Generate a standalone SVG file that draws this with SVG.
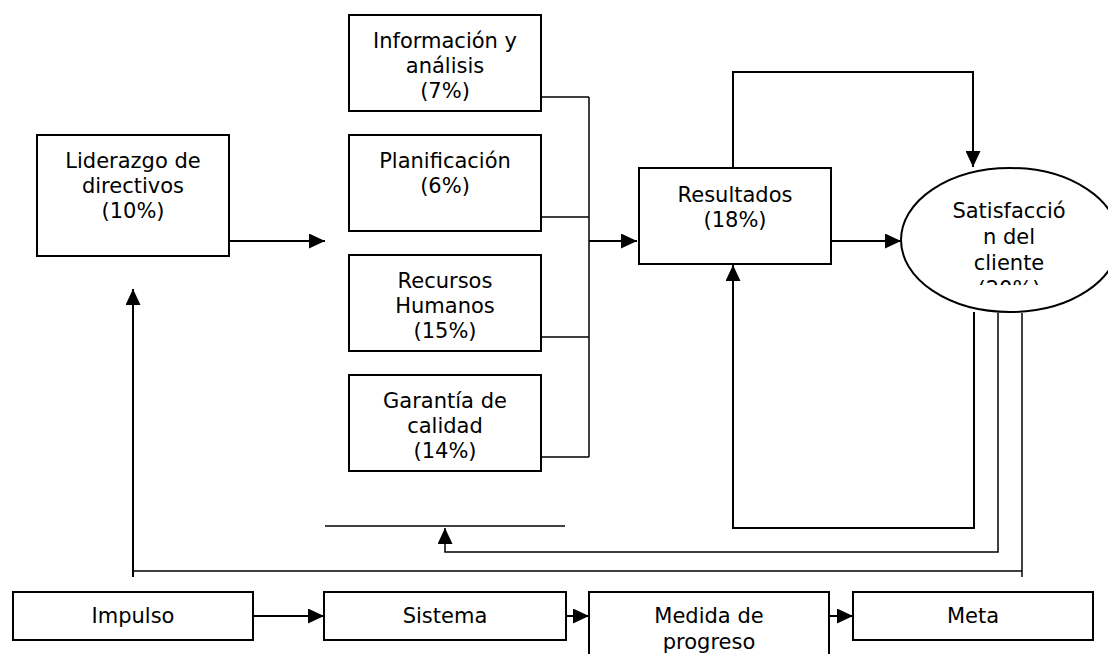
<svg xmlns="http://www.w3.org/2000/svg" width="1108" height="654" viewBox="0 0 1108 654">
<style>
.box{fill:#fff;stroke:#000;stroke-width:2}
.t{font-family:"DejaVu Sans",Verdana,sans-serif;font-size:21px;fill:#000;text-anchor:middle}
.c{fill:none;stroke:#000;stroke-width:2}
.c2{fill:none;stroke:#000;stroke-width:1.5}
</style>
<defs>
<marker id="ah" markerUnits="userSpaceOnUse" markerWidth="16" markerHeight="15" refX="16" refY="7.5" orient="auto">
<path d="M0,0 L16,7.5 L0,15 z" fill="#000"/>
</marker>
<clipPath id="ellclip"><rect x="910" y="190" width="198" height="95"/></clipPath>
</defs>
<rect width="1108" height="654" fill="#fff"/>
<g id="connectors">
<path class="c" d="M229,241 H325" marker-end="url(#ah)"/>
<path class="c" d="M133,577 V289" marker-end="url(#ah)"/>
<path class="c2" d="M133,571 H1022"/>
<path class="c2" d="M1022,313 V577"/>
<path class="c2" d="M541,97 H589 M541,217 H589 M541,337 H589 M541,457 H589 M589,97 V457"/>
<path class="c" d="M589,241 H637" marker-end="url(#ah)"/>
<path class="c" d="M828,241 H901" marker-end="url(#ah)"/>
<path class="c" d="M733,168 V72 H973 V167" marker-end="url(#ah)"/>
<path class="c" d="M974,312 V528 H733 V265" marker-end="url(#ah)"/>
<path class="c2" d="M998,313 V552 H445 V528" marker-end="url(#ah)"/>
<path class="c2" d="M325,526 H565"/>
<path class="c" d="M253,616 H324" marker-end="url(#ah)"/>
<path class="c" d="M566,616 H589" marker-end="url(#ah)"/>
<path class="c" d="M829,616 H853" marker-end="url(#ah)"/>
</g>
<g id="liderazgo">
<rect class="box" x="37" y="135" width="192" height="121"/>
<text class="t" x="133" y="168">Liderazgo de</text>
<text class="t" x="133" y="193">directivos</text>
<text class="t" x="133" y="218">(10%)</text>
</g>
<g id="informacion">
<rect class="box" x="349" y="15" width="192" height="96"/>
<text class="t" x="445" y="48">Información y</text>
<text class="t" x="445" y="73">análisis</text>
<text class="t" x="445" y="98">(7%)</text>
</g>
<g id="planificacion">
<rect class="box" x="349" y="135" width="192" height="96"/>
<text class="t" x="445" y="168">Planificación</text>
<text class="t" x="445" y="193">(6%)</text>
</g>
<g id="recursos">
<rect class="box" x="349" y="255" width="192" height="96"/>
<text class="t" x="445" y="288">Recursos</text>
<text class="t" x="445" y="313">Humanos</text>
<text class="t" x="445" y="338">(15%)</text>
</g>
<g id="garantia">
<rect class="box" x="349" y="375" width="192" height="96"/>
<text class="t" x="445" y="408">Garantía de</text>
<text class="t" x="445" y="433">calidad</text>
<text class="t" x="445" y="458">(14%)</text>
</g>
<g id="resultados">
<rect class="box" x="639" y="168" width="192" height="96"/>
<text class="t" x="735" y="202">Resultados</text>
<text class="t" x="735" y="227">(18%)</text>
</g>
<g id="satisfaccion">
<ellipse class="box" cx="1010" cy="240" rx="109" ry="72"/>
<g clip-path="url(#ellclip)">
<text class="t" x="1009" y="218">Satisfacció</text>
<text class="t" x="1009" y="244">n del</text>
<text class="t" x="1009" y="270">cliente</text>
<text class="t" x="1009" y="296">(20%)</text>
</g>
</g>
<g id="impulso">
<rect class="box" x="13" y="592" width="240" height="48"/>
<text class="t" x="133" y="623">Impulso</text>
</g>
<g id="sistema">
<rect class="box" x="324" y="592" width="242" height="48"/>
<text class="t" x="445" y="623">Sistema</text>
</g>
<g id="medida">
<rect class="box" x="589" y="592" width="240" height="90"/>
<text class="t" x="709" y="623">Medida de</text>
<text class="t" x="709" y="649">progreso</text>
</g>
<g id="meta">
<rect class="box" x="853" y="592" width="240" height="48"/>
<text class="t" x="973" y="623">Meta</text>
</g>
</svg>
